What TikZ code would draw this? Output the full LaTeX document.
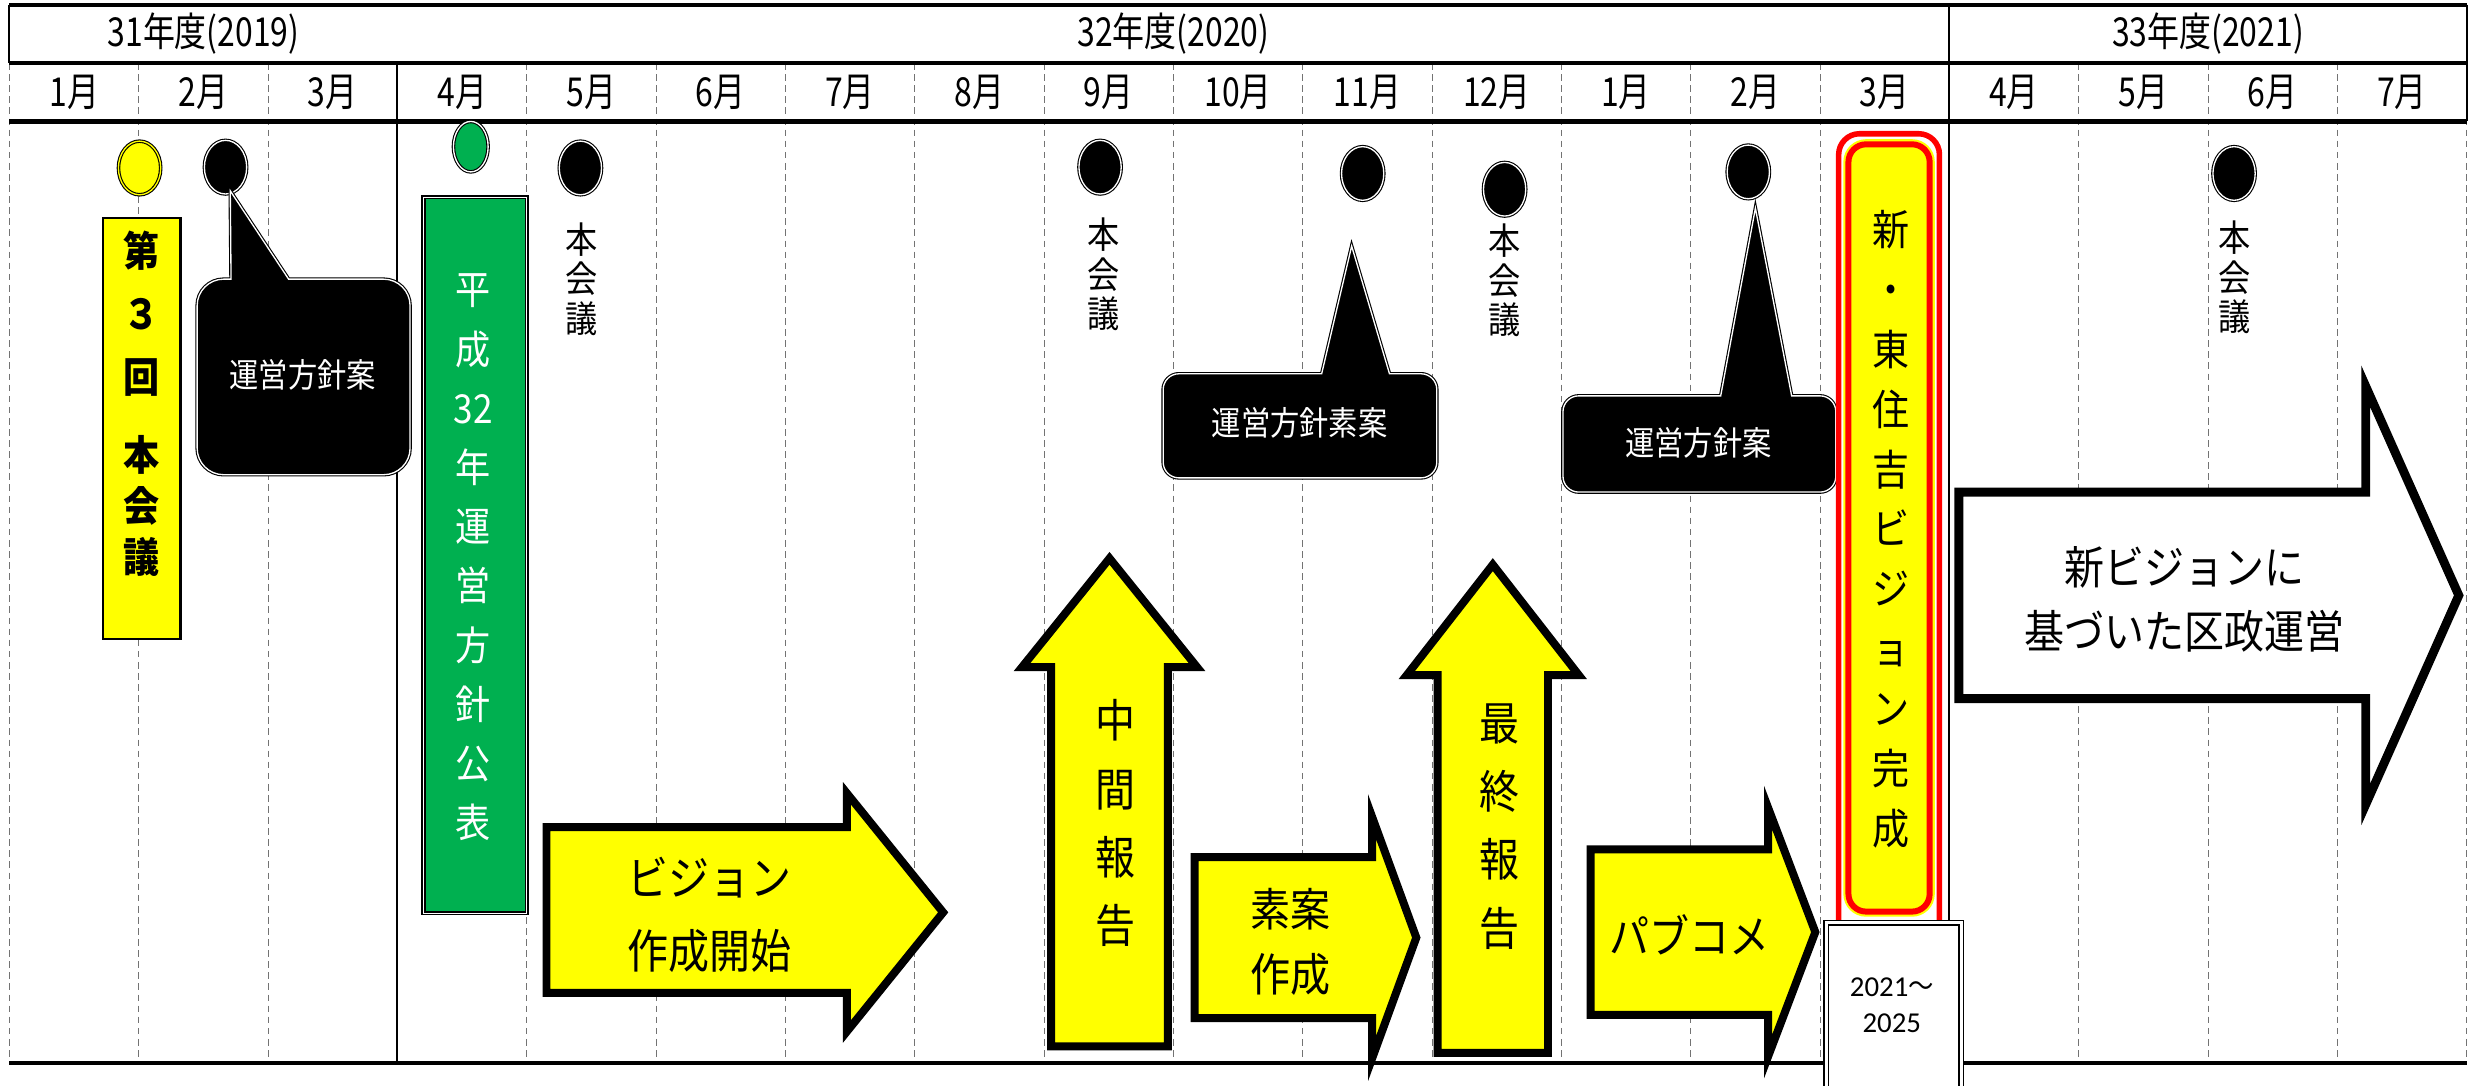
\documentclass[tikz,border=0pt]{standalone}
\usepackage{fontspec}
\setmainfont{Noto Sans CJK JP}
\newfontfamily\narrowjp[FakeStretch=0.8]{Noto Sans CJK JP}
\newfontfamily\slimjp[FakeStretch=0.88]{Noto Sans CJK JP}
\newfontfamily\numfont{Carlito}
\usetikzlibrary{shapes.geometric}
\definecolor{planyellow}{RGB}{255,255,0}
\definecolor{plangreen}{RGB}{0,176,80}
\definecolor{planred}{RGB}{255,0,0}

\begin{document}
\begin{tikzpicture}[x=0.025cm,y=-0.025cm]
	\tikzset{frame/.style = {line width=1.9pt}}
	\tikzset{yearline/.style = {line width=0.9pt}}
	\tikzset{monthline/.style = {densely dashed, black!55, line width=0.45pt}}
	\tikzset{mlabel/.style = {font=\narrowjp\fontsize{18}{20}\selectfont}}
	\tikzset{meetdot/.style = {ellipse, draw=black, fill=#1, double=white, double distance=0.6pt, line width=0.5pt, minimum width=0.67cm, minimum height=0.85cm, inner sep=0pt}}
	\tikzset{meetdot/.default = black}
	\tikzset{vtext/.style = {align=center, inner sep=0pt}}
	\tikzset{bubble/.style = {fill=black, draw=black, double=white, double distance=0.6pt, line width=0.5pt}}
	\tikzset{bubbletext/.style = {white, font=\slimjp\fontsize{15}{18}\selectfont}}
	\tikzset{yarrow/.style = {fill=planyellow, draw=black, line width=3.6pt, line join=miter}}
	\tikzset{warrow/.style = {fill=white, draw=black, line width=4pt, line join=miter}}
	\tikzset{arrowtext/.style = {align=center, inner sep=0pt, font=\slimjp\fontsize{20.5}{30.8}\selectfont}}

	\useasboundingbox (0,0) rectangle (1568,688);

	% grid
	\foreach \i in {0,1,2,4,5,...,14,16,17,18,19}
		\draw[monthline] (6+82*\i,40) -- (6+82*\i,674);
	\draw[yearline] (6,3) -- (6,40);
	\draw[yearline] (1564,3) -- (1564,77);
	\draw[yearline] (252,40) -- (252,674);
	\draw[yearline] (1236,3) -- (1236,674);
	\draw[frame] (6,3) -- (1564,3);
	\draw[frame] (6,40) -- (1564,40);
	\draw[frame] (6,77) -- (1564,77);
	\draw[frame] (6,674) -- (1564,674);

	\node[mlabel] (fy31) at (129,21.5) {31年度(2019)};
	\node[mlabel] (fy32) at (744,21.5) {32年度(2020)};
	\node[mlabel] (fy33) at (1400,21.5) {33年度(2021)};
	\foreach \m [count=\i from 0] in {1,2,...,12,1,2,...,7}
		\node[mlabel] (m\i) at (47+82*\i,58.5) {{\m}月};

	% meetings
	\node[meetdot=planyellow, double=planyellow] (d1) at (88.5,106.5) {};
	\node[meetdot] (d2) at (143,106) {};
	\node[meetdot=plangreen, minimum width=0.55cm, minimum height=0.8cm] (d3) at (298.5,93) {};
	\node[meetdot] (d4) at (368,106.5) {};
	\node[meetdot] (d5) at (697.5,106) {};
	\node[meetdot] (d6) at (864,110) {};
	\node[meetdot] (d7) at (954,120) {};
	\node[meetdot] (d8) at (1108.5,109) {};
	\node[meetdot] (d9) at (1416.5,110) {};

	\draw[fill=planyellow, line width=1pt] (65.5,138) rectangle (114.5,405);
	\node[vtext, font=\slimjp\bfseries\fontsize{18.5}{28.5}\selectfont] (dai3) at (90,199) {第\\３\\回};
	\node[vtext, font=\slimjp\bfseries\fontsize{18.5}{23}\selectfont] (kaigi1) at (90,321) {本\\会\\議};

	\draw[fill=plangreen, double=white, double distance=0.5pt, line width=0.7pt] (268.5,125) rectangle (334,579);
	\node[vtext, white, font=\slimjp\fontsize{18}{26.7}\selectfont] (koho) at (300,353.5) {平\\成\\32\\年\\運\\営\\方\\針\\公\\表};

	\node[vtext, font=\slimjp\fontsize{16.5}{17.8}\selectfont] (kaigi2) at (369,177) {本\\会\\議};
	\node[vtext, font=\slimjp\fontsize{16.5}{17.8}\selectfont] (kaigi3) at (700,174) {本\\会\\議};
	\node[vtext, font=\slimjp\fontsize{16.5}{17.8}\selectfont] (kaigi4) at (954,178) {本\\会\\議};
	\node[vtext, font=\slimjp\fontsize{16.5}{17.8}\selectfont] (kaigi5) at (1417,176) {本\\会\\議};

	% callouts
	\draw[bubble] (192,301) [rounded corners=0.42cm] -- (125,301) -- (125,177) [sharp corners] -- (146.5,177) -- (146,121) -- (183,177) [rounded corners=0.42cm] -- (260,177) -- (260,301) -- cycle;
	\node[bubbletext] (plan1) at (192,238) {運営方針案};
	\draw[bubble] (824,303) [rounded corners=0.25cm] -- (737.5,303) -- (737.5,237) [sharp corners] -- (838,237) -- (857,156) -- (881,237) [rounded corners=0.25cm] -- (911,237) -- (911,303) -- cycle;
	\node[bubbletext] (draft) at (824,268) {運営方針素案};
	\draw[bubble] (1077,312) [rounded corners=0.25cm] -- (991,312) -- (991,251) [sharp corners] -- (1091,251) -- (1113,132) -- (1136,251) [rounded corners=0.25cm] -- (1164,251) -- (1164,312) -- cycle;
	\node[bubbletext] (plan2) at (1077,281) {運営方針案};

	% yellow arrows
	\draw[yarrow] (346.5,524.5) -- (537,524.5) -- (537,503) -- (598,578.5) -- (537,654) -- (537,629.5) -- (346.5,629.5) -- cycle;
	\node[arrowtext, font=\slimjp\fontsize{21}{32.7}\selectfont] (start) at (450,580) {ビジョン\\作成開始};
	\draw[yarrow] (666.5,663.5) -- (666.5,423) -- (648,423) -- (703.5,354) -- (759,423) -- (740.5,423) -- (740.5,663.5) -- cycle;
	\node[arrowtext] (interim) at (707,522) {中\\間\\報\\告};
	\draw[yarrow] (757.5,543.5) -- (870,543.5) -- (870,518) -- (898,594.5) -- (870,671) -- (870,645.5) -- (757.5,645.5) -- cycle;
	\node[arrowtext, font=\slimjp\fontsize{20.5}{29.2}\selectfont] (soan) at (818,597) {素案\\作成};
	\draw[yarrow] (911.5,667.5) -- (911.5,428) -- (892,428) -- (946.5,358) -- (1001,428) -- (981.5,428) -- (981.5,667.5) -- cycle;
	\node[arrowtext] (final) at (951,524) {最\\終\\報\\告};
	\draw[yarrow] (1008.5,538.5) -- (1121,538.5) -- (1121,512) -- (1151,591) -- (1121,670) -- (1121,643.5) -- (1008.5,643.5) -- cycle;
	\node[arrowtext] (pubcom) at (1071,593) {パブコメ};

	% completed vision
	\draw[planred, line width=2.5pt, fill=white, rounded corners=0.33cm] (1165.8,84.8) rectangle (1229.7,610);
	\draw[planyellow, line width=4.6pt, rounded corners=0.28cm] (1172,91.5) rectangle (1223.5,578);
	\draw[planred, line width=2.7pt, fill=planyellow, rounded corners=0.28cm] (1172,91.5) rectangle (1223.5,578);
	\node[vtext, font=\slimjp\fontsize{19}{27}\selectfont] (vision) at (1199,335.5) {新\\・\\東\\住\\吉\\ビ\\ジ\\ョ\\ン\\完\\成};
	\draw[fill=white, double=white, double distance=1.4pt, line width=0.7pt] (1158,585) rectangle (1243.5,700);
	\node[vtext, font=\numfont\fontsize{13}{16.4}\selectfont] (term) at (1199.5,637.5) {2021{\slimjp ～}\\2025};

	% new vision arrow
	\draw[warrow] (1242,312) -- (1500,312) -- (1500,245) -- (1559,377.5) -- (1500,510) -- (1500,443) -- (1242,443) -- cycle;
	\node[arrowtext, font=\slimjp\fontsize{20.5}{28.5}\selectfont] (kusei) at (1385,380) {新ビジョンに\\基づいた区政運営};
\end{tikzpicture}
\end{document}
